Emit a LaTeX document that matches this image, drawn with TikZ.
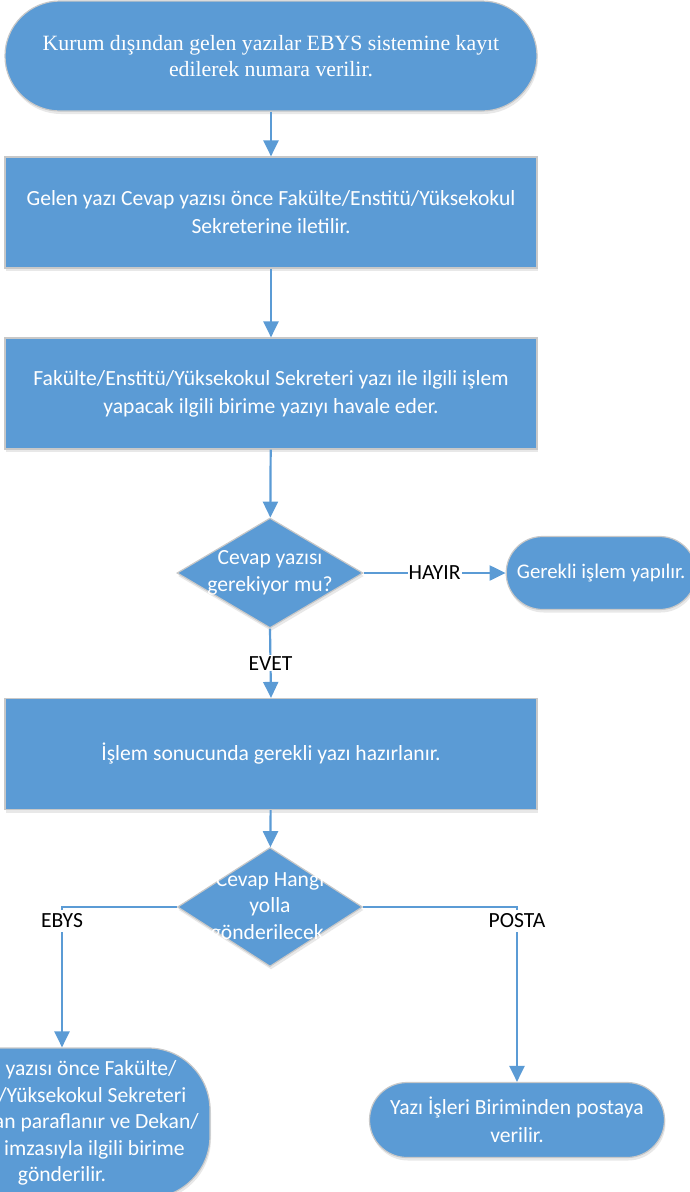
\documentclass[tikz,border=0pt]{standalone}
\usepackage{fontspec}
\setmainfont{Carlito}
\newfontfamily\serifyazi{Liberation Serif}
\usetikzlibrary{shapes.geometric, arrows.meta, positioning, shadows}
\definecolor{akismavi}{HTML}{5B9BD5}
\definecolor{kenargri}{HTML}{C8C8C8}
\tikzset{
    kutu/.style={
        rectangle,
        draw=kenargri,
        line width=1.2pt,
        fill=akismavi,
        text=white,
        align=center,
        font=\fontsize{21.6}{28}\selectfont,
        drop shadow={opacity=0.18, shadow xshift=1pt, shadow yshift=-3pt}
    },
    islem/.style={
        kutu,
        minimum width=532pt,
        minimum height=111pt
    },
    uc/.style={
        kutu,
        rounded corners=#1
    },
    karar/.style={
        diamond,
        draw=kenargri,
        line width=1.2pt,
        fill=akismavi,
        inner sep=0pt,
        drop shadow={opacity=0.18, shadow xshift=1pt, shadow yshift=-3pt}
    },
    kararyazi/.style={
        text=white,
        align=center,
        font=\fontsize{21.6}{26.5}\selectfont
    },
    etiket/.style={
        fill=white,
        text=black,
        inner xsep=1pt,
        inner ysep=4pt,
        font=\fontsize{21.6}{24}\selectfont
    },
    ok/.style={
        -{Triangle[width=15pt,length=16pt]},
        draw=akismavi,
        line width=2.2pt
    }
}
\begin{document}
\begin{tikzpicture}[x=1pt,y=-1pt]
    \useasboundingbox (0,0) rectangle (690,1192);
    \clip (0,0) rectangle (690,1192);

    \node[uc=55pt, minimum width=532pt, minimum height=110pt,
          font=\serifyazi\fontsize{21.8}{25.5}\selectfont] (kayit) at (271,56)
          {Kurum dışından gelen yazılar EBYS sistemine kayıt\\edilerek numara verilir.};
    \node[islem] (sekreter) at (271,212.5)
          {Gelen yazı Cevap yazısı önce Fakülte/Enstitü/Yüksekokul\\Sekreterine iletilir.};
    \node[islem] (havale) at (271,393.5)
          {Fakülte/Enstitü/Yüksekokul Sekreteri yazı ile ilgili işlem\\yapacak ilgili birime yazıyı havale eder.};
    \node[karar, minimum width=186pt, minimum height=110pt,
          label={[kararyazi]center:{Cevap yazısı\\gerekiyor mu?}}] (cevapmi) at (270,573) {};
    \node[uc=36.5pt, minimum width=190pt, minimum height=73pt, inner xsep=2pt,
          font=\fontsize{20.8}{26}\selectfont,
          right=142pt of cevapmi] (gerekli) {Gerekli işlem yapılır.};
    \node[islem] (hazirla) at (271,754)
          {İşlem sonucunda gerekli yazı hazırlanır.};
    \node[karar, minimum width=185pt, minimum height=119pt,
          label={[kararyazi]center:{Cevap Hangi\\yolla\\gönderilecek.}}] (hangiyol) at (270,907) {};
    \node[uc=62pt, minimum width=296pt, minimum height=150pt,
          font=\fontsize{21.6}{26.5}\selectfont] (ebys) at (62,1123)
          {Cevap yazısı önce Fakülte/\\Enstitü/Yüksekokul Sekreteri\\tarafından paraflanır ve Dekan/\\Müdür imzasıyla ilgili birime\\gönderilir.};
    \node[uc=37.5pt, minimum width=295pt, minimum height=75pt] (posta) at (517,1120)
          {Yazı İşleri Biriminden postaya\\verilir.};

    \draw[ok] (kayit) -- (sekreter);
    \draw[ok] (sekreter) -- (havale);
    \draw[ok] (havale) -- (cevapmi);
    \draw[ok] (cevapmi.east) -- node[etiket, inner ysep=1pt] {HAYIR} (gerekli.west);
    \draw[ok] (cevapmi.south) -- node[etiket, inner ysep=1pt] {EVET} (hazirla.north);
    \draw[ok] (hazirla) -- (hangiyol);
    \draw[ok] (hangiyol.west) -| node[etiket, anchor=north, yshift=-1.5pt] {EBYS} (ebys.north);
    \draw[ok] (hangiyol.east) -| node[etiket, anchor=north, yshift=-1.5pt] {POSTA} (posta.north);
\end{tikzpicture}
\end{document}
